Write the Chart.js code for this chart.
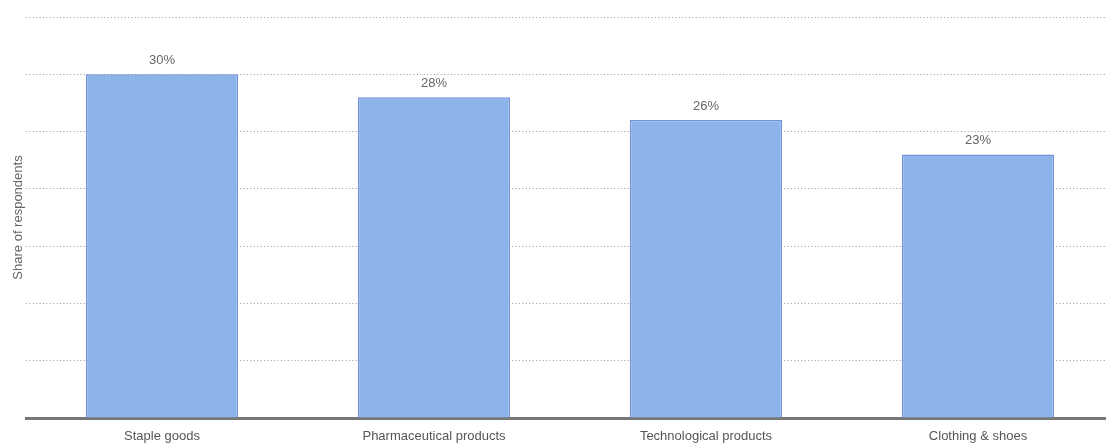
<!DOCTYPE html>
<html>
<head>
<meta charset="utf-8">
<script src="https://cdn.jsdelivr.net/npm/chart.js@4/dist/chart.umd.min.js"></script>
<style>
  html, body { margin: 0; padding: 0; background: #fff; overflow: hidden; }
  #wrap { width: 1114px; height: 444px; position: relative; }
</style>
</head>
<body>
<div id="wrap"><canvas id="c"></canvas></div>
<script>
const categories = ["Staple goods", "Pharmaceutical products", "Technological products", "Clothing & shoes"];
const shareValues = [30, 28, 26, 23];
const valueLabels = ["30%", "28%", "26%", "23%"];
const yAxisTitle = "Share of respondents";

const FONT = "'Liberation Sans', Arial, sans-serif";

const labelPlugin = {
  id: 'barLabels',
  afterDatasetsDraw(chart) {
    const ctx = chart.ctx;
    const meta = chart.getDatasetMeta(0);
    ctx.save();
    ctx.font = "13px " + FONT;
    ctx.fillStyle = "#666";
    ctx.textAlign = "center";
    ctx.textBaseline = "alphabetic";
    meta.data.forEach((bar, i) => {
      ctx.fillText(valueLabels[i], bar.x, bar.y - 10);
    });
    ctx.restore();
  }
};

new Chart(document.getElementById('c'), {
  type: 'bar',
  data: {
    labels: categories,
    datasets: [{
      data: shareValues,
      backgroundColor: '#8db4ea',
      borderColor: '#6f92da',
      borderWidth: 1.5,
      barPercentage: 0.56,
      categoryPercentage: 1.0
    }]
  },
  options: {
    responsive: true,
    maintainAspectRatio: false,
    animation: false,
    layout: { padding: { top: 17, left: 0, right: 0, bottom: 0 } },
    plugins: { legend: { display: false }, tooltip: { enabled: false } },
    scales: {
      x: {
        grid: { display: false, drawTicks: false },
        border: { display: true, color: '#777', width: 3 },
        ticks: { color: '#555', font: { family: FONT, size: 13 }, padding: 11 },
        afterFit(scale) { scale.height = 26; }
      },
      y: {
        min: 0, max: 35,
        ticks: { display: false, stepSize: 5 },
        grid: { color: '#999', lineWidth: 1, drawTicks: false },
        border: { display: false, dash: [1, 2.4] },
        title: { display: true, text: yAxisTitle, color: '#666', font: { family: FONT, size: 13 }, padding: { top: 11, bottom: 0 } },
        afterFit(scale) { scale.width = 26; }
      }
    }
  },
  plugins: [labelPlugin]
});
</script>
</body>
</html>
